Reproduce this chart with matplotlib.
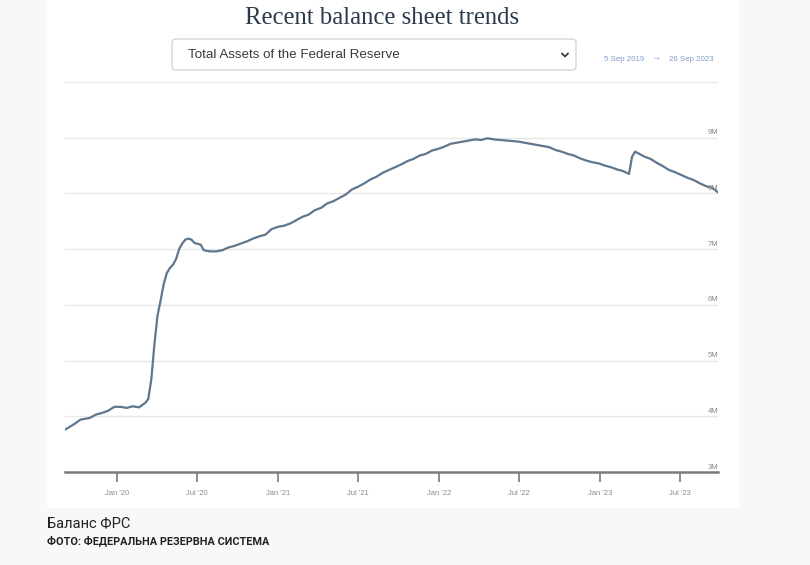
import numpy as np
import pandas as pd
import matplotlib
matplotlib.use("Agg")
import matplotlib.pyplot as plt
import matplotlib.dates as mdates
from matplotlib.patches import FancyBboxPatch, Rectangle
from matplotlib.lines import Line2D

# Total assets of the Federal Reserve, in "M" units as shown on the chart
dates = [
    "2019-09-05", "2019-09-26", "2019-10-10", "2019-10-31", "2019-11-14", "2019-11-28",
    "2019-12-12", "2019-12-26", "2020-01-09", "2020-01-23", "2020-02-06", "2020-02-20",
    "2020-03-05", "2020-03-12", "2020-03-19", "2020-03-26", "2020-04-02", "2020-04-09",
    "2020-04-16", "2020-04-23", "2020-04-30", "2020-05-07", "2020-05-14", "2020-05-21",
    "2020-05-28", "2020-06-04", "2020-06-11", "2020-06-18", "2020-06-25", "2020-07-09",
    "2020-07-16", "2020-07-30", "2020-08-13", "2020-08-27", "2020-09-10", "2020-09-24",
    "2020-10-08", "2020-10-22", "2020-11-05", "2020-11-19", "2020-12-03", "2020-12-17",
    "2020-12-31", "2021-01-14", "2021-01-28", "2021-02-11", "2021-02-25", "2021-03-11",
    "2021-03-25", "2021-04-08", "2021-04-22", "2021-05-06", "2021-05-20", "2021-06-03",
    "2021-06-17", "2021-07-01", "2021-07-15", "2021-07-29", "2021-08-12", "2021-08-26",
    "2021-09-09", "2021-09-23", "2021-10-07", "2021-10-21", "2021-11-04", "2021-11-18",
    "2021-12-02", "2021-12-16", "2021-12-30", "2022-01-13", "2022-01-27", "2022-02-10",
    "2022-02-24", "2022-03-10", "2022-03-24", "2022-04-07", "2022-04-21", "2022-05-05",
    "2022-05-19", "2022-06-02", "2022-06-16", "2022-06-30", "2022-07-14", "2022-07-28",
    "2022-08-11", "2022-08-25", "2022-09-08", "2022-09-22", "2022-10-06", "2022-10-20",
    "2022-11-03", "2022-11-17", "2022-12-01", "2022-12-15", "2022-12-29", "2023-01-12",
    "2023-01-26", "2023-02-09", "2023-02-23", "2023-03-08", "2023-03-15", "2023-03-22",
    "2023-03-29", "2023-04-12", "2023-04-26", "2023-05-10", "2023-05-24", "2023-06-07",
    "2023-06-21", "2023-07-05", "2023-07-19", "2023-08-02", "2023-08-16", "2023-08-30",
    "2023-09-13", "2023-09-26",
]
assets = [
    3.76, 3.86, 3.94, 3.97, 4.03, 4.06,
    4.10, 4.17, 4.17, 4.15, 4.18, 4.16,
    4.24, 4.31, 4.67, 5.30, 5.81, 6.08,
    6.37, 6.57, 6.66, 6.72, 6.82, 7.00,
    7.10, 7.17, 7.19, 7.17, 7.11, 7.08,
    6.98, 6.96, 6.96, 6.98, 7.03, 7.06,
    7.10, 7.14, 7.19, 7.23, 7.26, 7.36,
    7.40, 7.42, 7.46, 7.52, 7.58, 7.62,
    7.70, 7.74, 7.82, 7.86, 7.92, 7.98,
    8.07, 8.12, 8.18, 8.25, 8.30, 8.37,
    8.42, 8.47, 8.52, 8.58, 8.62, 8.68,
    8.71, 8.77, 8.80, 8.84, 8.89, 8.91,
    8.93, 8.95, 8.97, 8.96, 8.99, 8.97,
    8.96, 8.95, 8.94, 8.93, 8.91, 8.89,
    8.87, 8.85, 8.83, 8.78, 8.75, 8.71,
    8.68, 8.63, 8.59, 8.56, 8.54, 8.50,
    8.47, 8.43, 8.40, 8.35, 8.66, 8.75,
    8.72, 8.66, 8.62, 8.55, 8.49, 8.42,
    8.38, 8.33, 8.28, 8.24, 8.18, 8.13,
    8.10, 8.02,
]

y_ticks = [3, 4, 5, 6, 7, 8, 9]
y_labels = ["3M", "4M", "5M", "6M", "7M", "8M", "9M"]
x_ticks = ["2020-01-01", "2020-07-01", "2021-01-01", "2021-07-01",
           "2022-01-01", "2022-07-01", "2023-01-01", "2023-07-01"]
x_labels = ["Jan '20", "Jul '20", "Jan '21", "Jul '21",
            "Jan '22", "Jul '22", "Jan '23", "Jul '23"]

W, H = 810, 565

def fx(px):
  return px / W

def fy(py):
  return 1 - py / H

fig = plt.figure(figsize=(W / 100, H / 100), dpi=100)
fig.patch.set_facecolor("#f8f8f8")

# white card behind the chart
fig.patches.append(Rectangle((fx(47), fy(508)), fx(739) - fx(47), fy(0) - fy(508),
                             transform=fig.transFigure, facecolor="white",
                             edgecolor="none", zorder=-5))

# title and selector
fig.text(fx(382), fy(18), "Recent balance sheet trends", ha="center", va="center",
         fontsize=17.8, family="Liberation Serif", color="#2c3a4b")

fig.patches.append(FancyBboxPatch((fx(172), fy(70)), fx(576) - fx(172), fy(39) - fy(70),
                                  boxstyle="round,pad=0,rounding_size=0.006",
                                  transform=fig.transFigure, facecolor="white",
                                  edgecolor="#d6d6d6", linewidth=1.0, zorder=-4))
fig.text(fx(188), fy(55), "Total Assets of the Federal Reserve", ha="left", va="center",
         fontsize=9.6, family="Liberation Sans", color="#3a3a3a")
fig.add_artist(Line2D([fx(562), fx(565), fx(568)], [fy(53.5), fy(56.5), fy(53.5)],
                      transform=fig.transFigure, color="#333333", linewidth=1.2))

fig.text(fx(604), fy(60), "5 Sep 2019", ha="left", va="center",
         fontsize=5.7, family="Liberation Sans", color="#7f9cc8")
fig.text(fx(657), fy(60), "\u2192", ha="center", va="center",
         fontsize=5, family="DejaVu Sans", color="#a6b8d8")
fig.text(fx(714), fy(60), "26 Sep 2023", ha="right", va="center",
         fontsize=5.7, family="Liberation Sans", color="#7f9cc8")

# main chart
ax = fig.add_axes([fx(65), fy(472), fx(718) - fx(65), fy(82) - fy(472)])
ax.set_facecolor("none")

x = pd.to_datetime(dates)
ax.plot(x, assets, color="#5f768c", linewidth=1.6, solid_joinstyle="round", zorder=3)

ax.set_xlim(pd.Timestamp("2019-09-05"), pd.Timestamp("2023-09-26"))
ax.set_ylim(3, 10)

for v in [4, 5, 6, 7, 8, 9, 10]:
  ax.axhline(v, color="#e8e8e8", linewidth=1.0, zorder=1)

for v, lab in zip(y_ticks, y_labels):
  ax.text(1.0, v + 0.025, lab, transform=ax.get_yaxis_transform(), ha="right", va="bottom",
          fontsize=5.5, family="Liberation Sans", color="#8a8a8a")

ax.set_yticks([])
for s in ["top", "right", "left"]:
  ax.spines[s].set_visible(False)
ax.spines["bottom"].set_color("#7a7a7a")
ax.spines["bottom"].set_linewidth(1.8)

ax.set_xticks(pd.to_datetime(x_ticks))
ax.set_xticklabels(x_labels)
ax.tick_params(axis="x", length=7, width=1.2, color="#7a7a7a", pad=6,
               labelsize=5.5, labelcolor="#8a8a8a")
for t in ax.get_xticklabels():
  t.set_family("Liberation Sans")

# caption under the card
fig.text(fx(47), fy(523), "Баланс ФРС", ha="left", va="center",
         fontsize=10.5, family="Roboto", color="#222222")
fig.text(fx(47), fy(541), "ФОТО: ФЕДЕРАЛЬНА РЕЗЕРВНА СИСТЕМА", ha="left", va="center",
         fontsize=7.8, family="Roboto", weight="bold", color="#222222")

fig.savefig("out.png", dpi=100, facecolor=fig.get_facecolor())
